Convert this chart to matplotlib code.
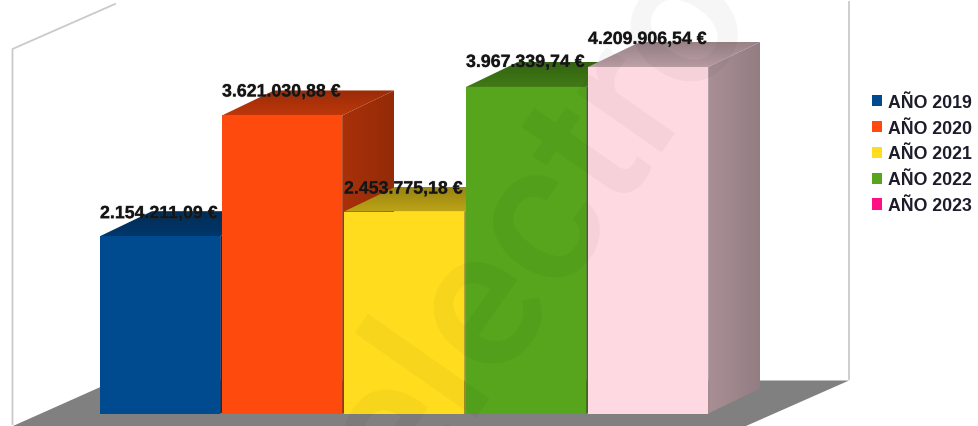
import numpy as np
import matplotlib
matplotlib.use('Agg')
import matplotlib.pyplot as plt
import matplotlib.patheffects as pe
from matplotlib.colors import to_rgb
from matplotlib.patches import Patch, Polygon

years = ['AÑO 2019', 'AÑO 2020', 'AÑO 2021', 'AÑO 2022', 'AÑO 2023']
values = [2154211.09, 3621030.88, 2453775.18, 3967339.74, 4209906.54]
labels = ['2.154.211,09 €', '3.621.030,88 €', '2.453.775,18 €', '3.967.339,74 €', '4.209.906,54 €']
bar_colors = ['#004A8F', '#FF4A0D', '#FFDD1E', '#56A51C', '#FFD9E1']
legend_colors = ['#004A8F', '#FF4A0D', '#FFDD1E', '#56A51C', '#FF0F85']

W, H = 979, 427
base_px = 414.5     # pixel row of the bar feet
left_px = 100       # pixel column of the first bar
unit_px = 122       # one category
eur_per_px = 4209906.54 / 346.5
bar_w = 0.985
depth_x = 52 / unit_px
depth_y = 25 * eur_per_px
label_lift = [22.5, 23.5, 22.5, 24.5, 27.5]  # px above the bar top


def px(x, y):
    """picture pixel -> data coordinates, for the walls and the floor"""
    return (x - left_px) / unit_px, (base_px - y) * eur_per_px


def shaded_face(ax, pts, color, f0, f1, vertical, z):
    # polygon filled with a linear darkening, f0 at the low/left end, f1 at the high/right end
    xs, ys = zip(*pts)
    ramp = np.linspace(f0, f1, 32)
    rgb = np.array(to_rgb(color))
    grad = ramp[:, None, None] * rgb if vertical else ramp[None, :, None] * rgb
    im = ax.imshow(grad, extent=(min(xs), max(xs), min(ys), max(ys)), origin='lower',
                   aspect='auto', interpolation='bilinear', zorder=z)
    poly = Polygon(pts, closed=True, fc='none', ec='none', zorder=z)
    ax.add_patch(poly)
    im.set_clip_path(poly)


plt.rcParams['font.family'] = ['Liberation Sans', 'DejaVu Sans']
fig = plt.figure(figsize=(W / 100, H / 100), dpi=100)
ax = fig.add_axes([0, 0, 1, 1])
ax.axis('off')

# floor and walls
floor = [px(13, 427), px(115, 381.5), px(849, 381.5), px(746, 427)]
ax.add_patch(Polygon(floor, closed=True, fc='#808080', ec='none', zorder=1))
wall_col = '#CACACA'
ax.plot(*zip(px(12.5, 425), px(12.5, 50), px(115, 5)), color=wall_col, lw=1.3, zorder=1)
ax.plot(*zip(px(849.5, 3), px(849.5, 380)), color=wall_col, lw=1.3, zorder=1)

# bars, left to right so each one covers the side of the one before
for i, (v, c) in enumerate(zip(values, bar_colors)):
    z = 2 + i
    x0, x1 = i, i + bar_w
    top = [(x0, v), (x1, v), (x1 + depth_x, v + depth_y), (x0 + depth_x, v + depth_y)]
    side = [(x1, 0), (x1, v), (x1 + depth_x, v + depth_y), (x1 + depth_x, depth_y)]
    shaded_face(ax, top, c, 0.74, 0.6, True, z)
    shaded_face(ax, side, c, 0.66, 0.58, False, z)
    ax.bar(x0, v, width=bar_w, align='edge', color=c, linewidth=0, zorder=z + 0.5)

# watermark
ax.text(px(537, 0)[0], px(0, 226)[1], 'electro', fontsize=142, color='black', alpha=0.04,
        fontweight='medium', family='Roboto', rotation=55, rotation_mode='anchor',
        ha='center', va='center', zorder=8)

# value labels
for i, (v, t) in enumerate(zip(values, labels)):
    ax.text(i, v + label_lift[i] * eur_per_px, t, fontsize=12.8, fontweight='bold', color='#151515',
            ha='left', va='center', zorder=9,
            path_effects=[pe.withStroke(linewidth=1, foreground=(0.3, 0.3, 0.3, 0.2))])

handles = [Patch(fc=c, ec='none', label=y) for c, y in zip(legend_colors, years)]
leg = ax.legend(handles=handles, loc='center left', bbox_to_anchor=(872 / W, 1 - 155 / H),
                frameon=False, prop={'size': 12.8, 'weight': 'bold'},
                handlelength=0.58, handleheight=0.58, handletextpad=0.32,
                labelspacing=0.5, borderpad=0, borderaxespad=0)
for t in leg.get_texts():
    t.set_color('#1C1C2A')

ax.set_xlim(px(0, 0)[0], px(W, 0)[0])
ax.set_ylim(px(0, H)[1], px(0, 0)[1])

fig.savefig('out.png', dpi=100)
